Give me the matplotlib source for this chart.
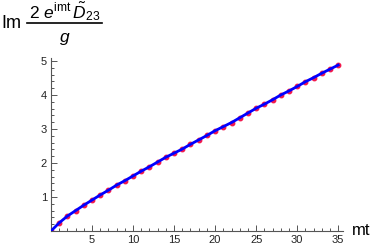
import numpy as np
import matplotlib.pyplot as plt
from matplotlib.lines import Line2D
from matplotlib.ticker import MultipleLocator

plt.rcParams['font.family'] = ['Liberation Sans', 'DejaVu Sans']
plt.rcParams['mathtext.fontset'] = 'custom'
plt.rcParams['mathtext.rm'] = 'Liberation Sans'
plt.rcParams['mathtext.it'] = 'Liberation Sans:italic'

# data
mt = np.arange(0, 36)
im_val = [0.0, 0.24, 0.44, 0.60, 0.76, 0.91, 1.06, 1.20, 1.35, 1.48,
          1.62, 1.76, 1.89, 2.03, 2.17, 2.29, 2.41, 2.55, 2.68, 2.81,
          2.95, 3.07, 3.19, 3.33, 3.47, 3.61, 3.73, 3.86, 4.00, 4.12,
          4.25, 4.39, 4.51, 4.64, 4.76, 4.88]
x_ticks = [5, 10, 15, 20, 25, 30, 35]
y_ticks = [1, 2, 3, 4, 5]

W, H = 374, 247
fig = plt.figure(figsize=(W / 100, H / 100), dpi=100)
ax = fig.add_axes([0.1364, 0.0648, 0.781, 0.702])

ax.plot(mt, im_val, 'o', color=(0.95, 0.1, 0.3), ms=3.2, zorder=2)
ax.plot(mt, im_val, '-', color=(0, 0, 1), lw=2, zorder=3)

ax.set_xlim(0, 35.6)
ax.set_ylim(0, 5.1)
ax.spines['top'].set_visible(False)
ax.spines['right'].set_visible(False)
for s in ['left', 'bottom']:
    ax.spines[s].set_color('#555555')
    ax.spines[s].set_linewidth(0.8)

ax.set_xticks(x_ticks)
ax.set_yticks(y_ticks)
ax.xaxis.set_minor_locator(MultipleLocator(1))
ax.yaxis.set_minor_locator(MultipleLocator(0.2))
ax.tick_params(which='both', direction='in', color='#555555', width=0.7,
               labelsize=8, labelcolor='#222222', pad=3)
ax.tick_params(which='major', length=4)
ax.tick_params(which='minor', length=2)

# axis labels (pixel positions converted to figure fractions)
fig.text(352 / W, 1 - 230 / H, 'mt', fontsize=12, ha='left', va='center')
fig.text(1 / W, 1 - 28 / H, 'Im', fontsize=13, ha='left', va='baseline')
fig.text(65 / W, 1 - 18.5 / H, r'$2\ e^{\mathrm{imt}}\,\tilde{D}_{23}$',
         fontsize=12.5, ha='center', va='baseline')
fig.add_artist(Line2D([27 / W, 102 / W], [1 - 23 / H, 1 - 23 / H],
                      color='black', lw=1.2))
fig.text(65 / W, 1 - 42 / H, r'$g$', fontsize=12.5, ha='center', va='baseline')

fig.savefig('out.png', dpi=100)
